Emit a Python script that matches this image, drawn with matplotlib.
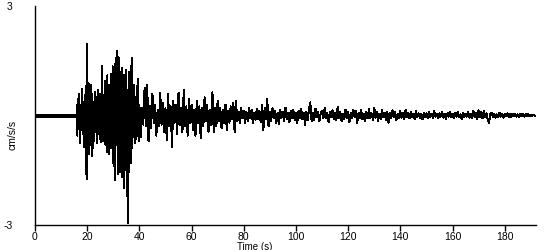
import numpy as np
import matplotlib
import matplotlib.pyplot as plt

matplotlib.rcParams['font.family'] = ['Liberation Sans', 'DejaVu Sans']
matplotlib.rcParams['font.size'] = 7.5

# 强震段 (cm/s/s)，16 s 开始，每 0.25 s 一个值
strong_start = 16.0
strong_dt = 0.25
strong = [
    0.3, -0.55, 0.45, -0.2, 0.6, -0.75, 0.25, -0.4,
    0.72, -0.5, 0.35, -0.87, 0.55, -0.3, 0.8, -1.75,
    1.96, -0.6, 0.9, -1.05, 0.45, -0.8, 0.85, -1.1,
    0.6, -0.9, 0.3, -0.7, 0.65, -0.45, 0.5, -0.75,
    0.7, -0.35, 0.45, -0.65, 0.6, -0.72, 0.3, 1.36,
    -0.7, 0.55, -0.5, 0.95, -0.8, 0.6, -1.0, 1.1,
    -0.75, 0.85, -1.05, 0.7, -0.9, 1.15, -0.6, 1.35,
    -1.3, 1.1, -1.77, 1.4, -0.8, 1.77, 0.9, -1.6,
    1.6, -1.35, 1.2, -1.55, 0.8, -1.7, 1.3, -1.2,
    1.1, -2.0, 0.9, -1.5, 1.25, -2.2, 0.7, -2.95,
    1.2, -1.0, 0.6, -1.3, 1.58, -0.9, 0.7, -0.6,
    0.85, -0.75, 0.5, -0.65, 0.8, -0.55, 1.0, -0.7,
]

# 尾波段，40 s 开始，每 0.5 s 一个值
coda_start = 40.0
coda_dt = 0.5
coda = [
    0.3, -0.6, 0.2, -0.25, 0.75, -0.3, 0.85, -0.7, 0.25, -0.35,
    0.6, -0.2, 0.3, -0.55, 0.15, -0.3, 0.62, -0.25, 0.35, -0.45,
    0.2, -0.68, 0.6, -0.3, 0.25, -0.87, 0.4, -0.2, 0.3, -0.5,
    0.62, -0.25, 0.2, -0.45, 0.7, -0.3, 0.25, -0.55, 0.45, -0.2,
    0.3, -0.4, 0.15, -0.55, 0.4, -0.2, 0.25, -0.62, 0.2, -0.3,
    0.5, -0.15, 0.3, -0.45, 0.15, -0.25, 0.64, -0.46, 0.2, -0.3,
    0.4, -0.15, 0.2, -0.35, 0.15, -0.2, 0.3, -0.4, 0.12, -0.2,
    0.25, -0.1, 0.35, -0.45, 0.4, -0.15, 0.1, -0.2, 0.22, -0.08,
    0.12, -0.2, 0.1, -0.15, 0.2, -0.08, 0.15, -0.22, 0.08, -0.12,
    0.18, -0.1, 0.12, -0.18, 0.3, -0.4, 0.2, -0.1, 0.45, -0.3,
    0.1, -0.15, 0.2, -0.08, 0.12, -0.2, 0.08, -0.24, 0.15, -0.06,
    0.1, -0.15, 0.22, -0.1, 0.06, -0.18, 0.12, -0.08, 0.16, -0.12,
    0.08, -0.2, 0.12, -0.06, 0.18, -0.1, 0.08, -0.27, 0.1, -0.12,
    0.15, 0.36, -0.15, 0.06, -0.12, 0.18, -0.05, 0.1, -0.15, 0.08,
    0.12, -0.08, 0.2, -0.06, 0.08, -0.18, 0.1, -0.05, 0.14, -0.1,
    0.06, -0.12, 0.23, -0.08, 0.1, -0.15, 0.05, -0.1, 0.16, -0.06,
    0.1, -0.18, 0.06, -0.08, 0.15, -0.05, 0.12, -0.2, 0.08, -0.06,
    0.14, -0.1, 0.05, -0.15, 0.1, -0.06, 0.18, -0.08, 0.06, -0.12,
    0.22, -0.06, 0.1, -0.14, 0.05, -0.1, 0.15, -0.05, 0.08, -0.12,
    0.1, -0.2, 0.06, -0.08, 0.14, -0.05, 0.1, -0.12, 0.05, -0.08,
    0.12, -0.06, 0.08, -0.1, 0.15, -0.04, 0.06, -0.08, 0.1, -0.05,
    0.05, -0.1, 0.12, -0.04, 0.06, -0.08, 0.04, -0.1, 0.08, -0.03,
    0.06, -0.08, 0.1, -0.04, 0.05, -0.07, 0.12, -0.03, 0.04, -0.08,
    0.06, -0.03, 0.1, -0.06, 0.04, -0.09, 0.06, -0.03, 0.11, -0.05,
    0.04, -0.08, 0.06, -0.03, 0.09, -0.05, 0.03, -0.1, 0.07, -0.04,
    0.05, -0.03, 0.1, -0.06, 0.04, -0.08, 0.12, -0.04, 0.06, -0.1,
    0.14, -0.05, 0.1, -0.08, 0.13, -0.04, 0.06, -0.1, -0.2, 0.05,
    0.08, -0.04, 0.05, -0.06, 0.03, -0.05, 0.07, -0.03, 0.04, -0.06,
    0.05, -0.02, 0.06, -0.04, 0.03, -0.05, 0.04, -0.02, 0.05, -0.03,
    0.03, -0.04, 0.05, -0.02, 0.03, -0.03, 0.04, -0.02, 0.03, -0.02,
    0.02, -0.01, 0.01, 0.0,
]
x_ticks = [0, 20, 40, 60, 80, 100, 120, 140, 160, 180]
y_ticks = [-3, 3]

t_strong = strong_start + strong_dt * np.arange(len(strong))
t_coda = coda_start + coda_dt * np.arange(len(coda))

fig = plt.figure(figsize=(5.5, 2.5), dpi=100)
ax = fig.add_axes([35 / 550, 25 / 250, 501 / 550, 219 / 250])

# 震前静止段
ax.plot([0, strong_start], [0, 0], color='black', lw=1.6,
        solid_capstyle='butt', antialiased=False)
ax.plot(np.r_[strong_start, t_strong, t_coda], np.r_[0, strong, coda],
        color='black', lw=0.72, antialiased=False)

ax.set_xlim(0, 192)
ax.set_ylim(-3, 3)
ax.set_xticks(x_ticks)
ax.set_yticks(y_ticks)
ax.set_yticklabels([str(v) for v in y_ticks])
ax.tick_params(axis='x', direction='out', length=4, width=1, pad=1)
ax.tick_params(axis='y', length=0, pad=16)
for s in ['top', 'right']:
    ax.spines[s].set_visible(False)
for s in ['left', 'bottom']:
    ax.spines[s].set_linewidth(1)

fig.text(13 / 550, 115 / 250, 'cm/s/s', rotation=90, ha='center', va='center')
fig.text(255 / 550, 3.5 / 250, 'Time (s)', ha='center', va='center', fontsize=7)

fig.savefig('out.png', dpi=100)
